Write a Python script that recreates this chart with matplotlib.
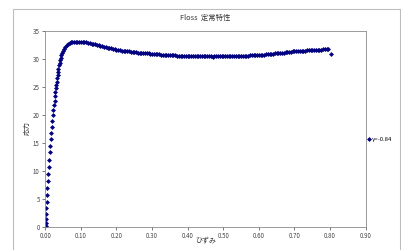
import matplotlib
matplotlib.use("Agg")
import matplotlib.pyplot as plt
from matplotlib.patches import Rectangle

plt.rcParams['font.family'] = ['Noto Sans CJK JP', 'DejaVu Sans']

title = "Floss  定常特性"
xlabel = "ひずみ"
ylabel = "応力"
series_name = "γ=-0.84"
xticks = [0.00, 0.10, 0.20, 0.30, 0.40, 0.50, 0.60, 0.70, 0.80, 0.90]
yticks = [0, 5, 10, 15, 20, 25, 30, 35]

strain = [
    0.001, 0.001, 0.002, 0.002, 0.003, 0.004, 0.005, 0.006, 0.007, 0.008,
    0.009, 0.011, 0.012, 0.014, 0.015, 0.017, 0.019, 0.020, 0.022, 0.023,
    0.025, 0.026, 0.027, 0.028, 0.030, 0.031, 0.032, 0.033, 0.035, 0.036,
    0.037, 0.039, 0.040, 0.041, 0.043, 0.045, 0.047, 0.050, 0.053, 0.056,
    0.060, 0.064, 0.068, 0.072, 0.076,
    0.080, 0.085, 0.090, 0.095, 0.100, 0.105, 0.110, 0.115, 0.120, 0.125,
    0.130, 0.135, 0.140, 0.145, 0.150, 0.155, 0.160, 0.165, 0.170, 0.175,
    0.180, 0.185, 0.190, 0.195, 0.200, 0.205, 0.210, 0.215, 0.220, 0.225,
    0.230, 0.235, 0.240, 0.245, 0.250, 0.255, 0.260, 0.265, 0.270, 0.275,
    0.280, 0.285, 0.290, 0.295, 0.300, 0.305, 0.310, 0.315, 0.320, 0.325,
    0.330, 0.335, 0.340, 0.345, 0.350, 0.355, 0.360, 0.365, 0.370, 0.375,
    0.380, 0.385, 0.390, 0.395, 0.400, 0.405, 0.410, 0.415, 0.420, 0.425,
    0.430, 0.435, 0.440, 0.445, 0.450, 0.455, 0.460, 0.465, 0.470, 0.475,
    0.480, 0.485, 0.490, 0.495, 0.500, 0.505, 0.510, 0.515, 0.520, 0.525,
    0.530, 0.535, 0.540, 0.545, 0.550, 0.555, 0.560, 0.565, 0.570, 0.575,
    0.580, 0.585, 0.590, 0.595, 0.600, 0.605, 0.610, 0.615, 0.620, 0.625,
    0.630, 0.635, 0.640, 0.645, 0.650, 0.655, 0.660, 0.665, 0.670, 0.675,
    0.680, 0.685, 0.690, 0.695, 0.700, 0.705, 0.710, 0.715, 0.720, 0.725,
    0.730, 0.735, 0.740, 0.745, 0.750, 0.755, 0.760, 0.765, 0.770, 0.775,
    0.780, 0.785, 0.790, 0.795, 0.802,
]

stress = [
    0.2, 0.7, 1.3, 2.2, 3.3, 4.5, 5.7, 6.9, 8.1, 9.4,
    10.7, 12.0, 13.3, 14.5, 15.7, 16.8, 17.8, 18.9, 19.9, 20.8,
    21.7, 22.5, 23.3, 24.0, 24.7, 25.3, 25.9, 26.5, 27.1, 27.7,
    28.2, 28.8, 29.3, 29.8, 30.2, 30.6, 31.0, 31.4, 31.8, 32.1,
    32.4, 32.6, 32.8, 32.9, 33.0,
    33.0, 33.05, 33.05, 33.05, 33.0, 33.0, 32.95, 32.9, 32.85, 32.8,
    32.7, 32.65, 32.55, 32.5, 32.4, 32.3, 32.25, 32.15, 32.05, 32.0,
    31.9, 31.85, 31.75, 31.7, 31.6, 31.55, 31.5, 31.45, 31.4, 31.35,
    31.3, 31.3, 31.25, 31.2, 31.2, 31.15, 31.1, 31.1, 31.05, 31.0,
    31.0, 30.95, 30.95, 30.9, 30.9, 30.85, 30.85, 30.8, 30.8, 30.75,
    30.75, 30.7, 30.7, 30.65, 30.65, 30.6, 30.6, 30.6, 30.55, 30.55,
    30.5, 30.5, 30.5, 30.5, 30.45, 30.45, 30.45, 30.45, 30.4, 30.4,
    30.4, 30.4, 30.4, 30.4, 30.4, 30.4, 30.4, 30.4, 30.35, 30.4,
    30.4, 30.4, 30.4, 30.4, 30.4, 30.4, 30.4, 30.45, 30.45, 30.45,
    30.45, 30.5, 30.5, 30.5, 30.5, 30.5, 30.55, 30.55, 30.55, 30.6,
    30.6, 30.6, 30.65, 30.65, 30.7, 30.7, 30.75, 30.75, 30.8, 30.8,
    30.85, 30.9, 30.9, 30.95, 31.0, 31.0, 31.05, 31.1, 31.1, 31.15,
    31.2, 31.2, 31.25, 31.3, 31.3, 31.35, 31.35, 31.4, 31.4, 31.45,
    31.45, 31.5, 31.5, 31.5, 31.55, 31.55, 31.55, 31.6, 31.6, 31.6,
    31.65, 31.7, 31.75, 31.8, 30.8,
]

W, H = 402, 250
fig = plt.figure(figsize=(W / 100, H / 100), dpi=100)
fig.patch.set_facecolor('white')

# outer chart frame
fig.patches.append(Rectangle((12.7 / W, -0.02), (400.5 - 12.7) / W, 1 - 9.3 / H + 0.02,
                             transform=fig.transFigure, fill=False,
                             edgecolor='#bdbdbd', linewidth=0.8))

left, right, top, bottom = 45.3, 365.7, 30.7, 226.7
ax = fig.add_axes([left / W, 1 - bottom / H, (right - left) / W, (bottom - top) / H])

navy = '#000080'
ax.plot(strain, stress, linestyle='none', marker='D', markersize=2.5,
        color=navy, markeredgewidth=0, label=series_name)

ax.set_xlim(0, 0.9)
ax.set_ylim(0, 35)
ax.set_xticks(xticks)
ax.set_xticklabels([f"{t:.2f}" for t in xticks])
ax.set_yticks(yticks)
ax.set_yticklabels([str(t) for t in yticks])
ax.tick_params(labelsize=4.4, length=2, width=0.5, colors='#444444', pad=2)
for s in ax.spines.values():
    s.set_color('#8a8a8a')
    s.set_linewidth(0.6)

fig.text((left + right) / 2 / W, 1 - 18 / H, title, ha='center', va='center',
         fontsize=5.3, color='#333333')
fig.text((left + right) / 2 / W, 1 - 240 / H, xlabel, ha='center', va='center',
         fontsize=5, color='#333333')
fig.text(28 / W, 1 - 128 / H, ylabel, ha='center', va='center', rotation=90,
         fontsize=5, color='#333333')

ax.legend(loc='center left', bbox_to_anchor=(364 / W, 1 - 139 / H),
          bbox_transform=fig.transFigure, frameon=False, fontsize=4.3,
          handlelength=0.6, handletextpad=0.2, borderpad=0, markerscale=1.0)

fig.savefig('out.png', dpi=100)
